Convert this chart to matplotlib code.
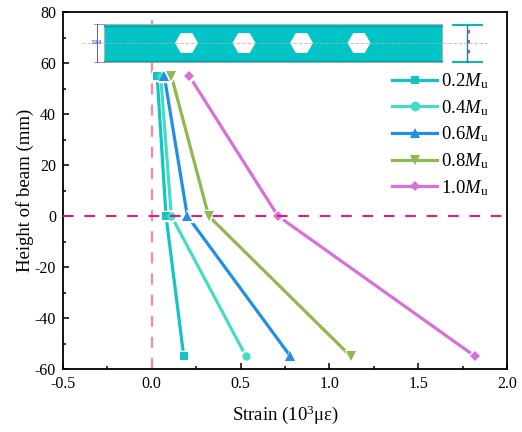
# -*- coding: utf-8 -*-
import matplotlib as mpl
mpl.use('Agg')
import matplotlib.pyplot as plt
from matplotlib.lines import Line2D
from matplotlib.patches import Rectangle, RegularPolygon

plt.rcParams['font.family'] = ['Liberation Serif', 'DejaVu Serif']
plt.rcParams['mathtext.fontset'] = 'custom'
plt.rcParams['mathtext.rm'] = 'Liberation Serif'
plt.rcParams['mathtext.it'] = 'Liberation Serif:italic'
plt.rcParams['axes.unicode_minus'] = False

# 梁高度和各级荷载下的应变
heights = [55, 0, -55]
strain_02 = [0.03, 0.08, 0.18]
strain_04 = [0.05, 0.11, 0.53]
strain_06 = [0.07, 0.20, 0.78]
strain_08 = [0.11, 0.32, 1.12]
strain_10 = [0.21, 0.71, 1.82]
load_labels = ['0.2', '0.4', '0.6', '0.8', '1.0']
colors = ['#14c4c4', '#45dcc4', '#2090e4', '#90b850', '#d870d8']
markers = ['s', 'o', '^', 'v', 'D']
sizes = [5.5, 6, 7, 7, 4.8]
hole_offsets = [0, 1, 2, 3]

W, H = 522, 432
fig = plt.figure(figsize=(W / 100, H / 100), dpi=100)
ax = fig.add_axes([63 / W, 1 - 369 / H, 444 / W, 357 / H])

all_strain = [strain_02, strain_04, strain_06, strain_08, strain_10]
for s, c, m, ms in zip(all_strain, colors, markers, sizes):
    # 白色底的标记让线和点之间留一点空隙
    ax.plot(s, heights, color=c, lw=2.3, marker=m, ms=ms + 2, mfc='white', mec='white', zorder=3)
    ax.plot(s, heights, ls='none', marker=m, ms=ms, mfc=c, mec=c, mew=0, zorder=5)

ax.axhline(0, color='#f0107c', lw=1.4, dashes=(5.5, 5.5), zorder=6)
ax.plot([0, 0], [-60, 80], color='#fb86a8', lw=1.6, dashes=(5, 4.5), zorder=2)

ax.set_xlim(-0.5, 2.0)
ax.set_ylim(-60, 80)
ax.set_xticks([-0.5, 0, 0.5, 1.0, 1.5, 2.0])
ax.set_xticks([-0.25, 0.25, 0.75, 1.25, 1.75], minor=True)
ax.set_yticks(range(-60, 81, 20))
ax.set_yticks(range(-50, 80, 20), minor=True)
ax.tick_params(which='major', direction='in', length=4.5, width=1.1, labelsize=11.5, pad=5)
ax.tick_params(which='minor', direction='in', length=2.5, width=1.1)
for sp in ax.spines.values():
    sp.set_linewidth(1.3)
ax.set_xlabel('Strain (10$^{3}$\u03bc\u03b5)', fontsize=13.5, labelpad=8)
ax.set_ylabel('Height of beam (mm)', fontsize=13.5, labelpad=0.5)

# 顶部梁的示意图，坐标用像素
beam = fig.add_axes([0, 0, 1, 1], facecolor='none')
beam.set_xlim(0, W)
beam.set_ylim(H, 0)
beam.axis('off')
beam.add_patch(Rectangle((104, 24), 338, 38, fc='#02c4c6', ec='#a8b4b8', lw=0.8))
beam.plot([104, 442], [25.5, 25.5], color='#0a9a9c', lw=0.9)
beam.plot([104, 442], [60.5, 60.5], color='#0a9a9c', lw=0.9)
for i in hole_offsets:
    beam.add_patch(RegularPolygon((186.5 + i * 57.5, 43), 6, radius=11.5, orientation=3.14159 / 2,
                                  fc='white', ec='none', zorder=3))
beam.plot([82, 487], [43, 43], color='#c8a8a8', lw=0.7, ls='--', alpha=0.7, zorder=4)
beam.plot([97, 97], [24, 62], color='#3a3ae0', lw=0.6)
beam.plot([94, 104], [24, 24], color='#3a3ae0', lw=0.4)
beam.plot([94, 104], [62, 62], color='#3a3ae0', lw=0.4)
beam.text(96.5, 43, '194', fontsize=4.5, color='#4040d0', ha='center', va='center',
          family=['DejaVu Sans'], zorder=5)
# 右边的截面
beam.plot([452.5, 482], [24.5, 24.5], color='#14b4b4', lw=1.5)
beam.plot([452.5, 482], [61.5, 61.5], color='#14b4b4', lw=1.5)
beam.plot([467, 467], [24.5, 61.5], color='#148c8c', lw=1.0)
beam.plot([468.5, 468.5], [30, 56], color='#e0107c', lw=1.2, dashes=(2, 4))

# 图例手动画
handles = [Line2D([], [], color=c, lw=2.3, marker=m, ms=ms, mfc=c, mec=c, mew=0)
           for c, m, ms in zip(colors, markers, [6, 7, 7, 7, 5])]
labels = [v + '$\\mathit{M}_{\\mathrm{u}}$' for v in load_labels]
ax.legend(handles, labels, loc='upper left', bbox_to_anchor=(0.74, 0.834), frameon=False,
          fontsize=13.5, handlelength=2.45, handletextpad=0.2, labelspacing=0.37, borderpad=0,
          borderaxespad=0)

plt.savefig('out.png', dpi=100)
